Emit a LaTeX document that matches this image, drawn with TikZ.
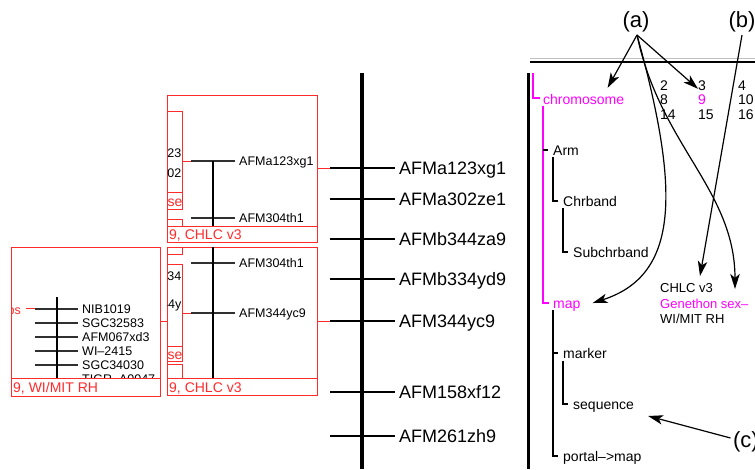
\documentclass[tikz,border=0pt]{standalone}
\usepackage{fontspec}
\setmainfont{Liberation Sans}
\usetikzlibrary{arrows.meta,positioning,calc}
\definecolor{MapRed}{HTML}{FF2B2B}
\definecolor{TreePink}{HTML}{FF00FF}
\definecolor{RuleGray}{HTML}{C0C0C0}
\definecolor{TickDark}{HTML}{303030}

\begin{document}
\begin{tikzpicture}[x=1pt,y=-1pt,
  panel/.style={rectangle,draw=MapRed,fill=white,line width=1pt,inner sep=0pt,anchor=north west},
  redframe/.style={draw=MapRed,line width=1pt},
  mainlabel/.style={anchor=west,inner sep=0pt,font=\fontsize{18}{20}\selectfont,text height=13pt,text depth=0pt},
  mapmarker/.style={anchor=west,inner sep=0pt,font=\fontsize{12.5}{14}\selectfont,text height=9pt,text depth=0pt},
  mapcaption/.style={mapmarker,font=\fontsize{14}{16}\selectfont,text=MapRed,text height=10pt},
  treelabel/.style={anchor=west,inner sep=0pt,font=\fontsize{14}{16}\selectfont,text height=10pt,text depth=0pt},
  maplist/.style={anchor=west,inner sep=0pt,font=\fontsize{13}{15}\selectfont,text height=9.4pt,text depth=0pt},
  callout/.style={inner sep=0pt,outer sep=2.5pt,font=\fontsize{22}{24}\selectfont,text height=16pt,text depth=5pt},
  markertick/.style={draw=TickDark,line width=1.2pt},
  mapaxis/.style={draw=black,line width=2pt},
  treeline/.style={draw=black,line width=1.3pt},
  pinkline/.style={draw=TreePink,line width=1.5pt},
  arrow/.style={-{Stealth[length=15pt,width=9.5pt,inset=4pt]},draw=black,line width=1.2pt}
]
\useasboundingbox[fill=white] (0,0) rectangle (755,469);

% main chromosome axis
\draw[line width=4pt] (362,73) -- (362,469);
\foreach \mk/\y [count=\i] in {AFMa123xg1/168,AFMa302ze1/199,AFMb344za9/239,AFMb334yd9/279,AFM344yc9/321,AFM158xf12/392,AFM261zh9/436}{
  \node[mainlabel] (mk\i) at (399,\y) {\mk};
  \coordinate (mt\i) at (330,\y);
  \draw[markertick,draw=black] (mt\i) -- ([xshift=-4pt]mk\i.west);
}

% WI/MIT RH panel
\node[panel,minimum width=149pt,minimum height=149pt] (rhmap) at (11,247) {};
\begin{scope}
  \clip (rhmap.north west) rectangle (rhmap.south east);
  \node[mapmarker,anchor=east,text=MapRed] (rhps) at (21,310) {ps};
\end{scope}
\draw[redframe] ([xshift=5pt]rhps.east |- 0,308) -- (35,308);
\foreach \mk/\y [count=\i] in {NIB1019/309,SGC32583/323,AFM067xd3/337,WI–2415/351,SGC34030/365,TIGR–A0047/379}{
  \node[mapmarker] (rh\i) at (82,\y) {\mk};
  \draw[markertick] (35,\y) -- ([xshift=-4pt]rh\i.west);
}
\draw[mapaxis] (57,297) -- (57,378);
\draw[redframe,fill=white] (11,378) rectangle (160,396);
\node[mapcaption] (rhcap) at (13,387) {9, WI/MIT RH};

% upper CHLC panel
\node[panel,minimum width=150pt,minimum height=147pt] (chlcA) at (167,95) {};
\node[panel,minimum width=15pt,minimum height=98pt] (hidA) at (167,111) {};
\begin{scope}
  \clip (hidA.north west) rectangle (hidA.south east);
  \node[mapmarker,anchor=east] (hidA1) at (181.5,153) {23};
  \node[mapmarker,anchor=east] (hidA2) at (181.5,173) {302};
  \node[mapcaption] (hidA3) at (167.5,201) {se};
\end{scope}
\draw[redframe] (167,192) -- (182,192);
\draw[redframe] (167,219) -| (182,226);
\draw[redframe] (167,226) -- (317,226);
\node[mapcaption] (capA) at (169,234) {9, CHLC v3};
\node[mapmarker] (pa1) at (239,161) {AFMa123xg1};
\node[mapmarker] (pa2) at (239,218) {AFM304th1};
\draw[redframe] (182,161) -- (191,161);
\draw[markertick] (191,161) -- ([xshift=-4pt]pa1.west);
\draw[markertick] (191,218) -- ([xshift=-4pt]pa2.west);
\draw[mapaxis] (213,161) -- (213,226);
\draw[redframe] (chlcA.east |- mt1) -- (mt1);

% lower CHLC panel
\node[panel,minimum width=150pt,minimum height=148pt] (chlcB) at (167,247) {};
\draw[redframe] (167,254) -| (182,247);
\node[panel,minimum width=15pt,minimum height=97pt] (hidB) at (167,264) {};
\begin{scope}
  \clip (hidB.north west) rectangle (hidB.south east);
  \node[mapmarker,anchor=east] (hidB1) at (181.5,276) {334};
  \node[mapmarker,anchor=east] (hidB2) at (181.5,304) {44y};
  \node[mapcaption] (hidB3) at (167.5,354) {se};
\end{scope}
\draw[redframe] (167,346) -- (182,346);
\draw[redframe] (167,364) -| (182,378);
\draw[redframe] (167,378) -- (317,378);
\node[mapcaption] (capB) at (169,387) {9, CHLC v3};
\node[mapmarker] (pb1) at (239,263) {AFM304th1};
\node[mapmarker] (pb2) at (239,313) {AFM344yc9};
\draw[redframe] (182,313) -- (191,313);
\draw[markertick] (191,263) -- ([xshift=-4pt]pb1.west);
\draw[markertick] (191,313) -- ([xshift=-4pt]pb2.west);
\draw[mapaxis] (213,247) -- (213,378);
\draw[redframe] (chlcB.east |- mt5) -- (mt5);
\draw[redframe] (rhmap.east |- 0,321) -- (chlcB.west |- 0,321);

% object tree
\draw[line width=3pt] (528,73) -- (528,469);
\draw[draw=RuleGray,line width=1pt] (530,58) -- (755,58);
\draw[line width=1.2pt] (530,62) -- (755,62);
\draw[pinkline] (533,73) |- (540,98);
\node[treelabel,text=TreePink] (chromo) at (543,99) {chromosome};
\draw[pinkline] (543,106) |- (549,303);
\node[treelabel,text=TreePink] (map) at (553,303) {map};
\draw[treeline] (543,150) -- (548,150);
\node[treelabel] (arm) at (553,150) {Arm};
\draw[treeline] (553,157) |- (558,201);
\node[treelabel] (chrband) at (563,201) {Chrband};
\draw[treeline] (563,208) |- (568,252);
\node[treelabel] (subchrband) at (573,252) {Subchrband};
\draw[treeline] (553,310) |- (558,456);
\draw[treeline] (553,353) -- (558,353);
\node[treelabel] (marker) at (563,353) {marker};
\node[treelabel] (portal) at (563,456) {portal–>map};
\draw[treeline] (563,361) |- (568,404);
\node[treelabel] (sequence) at (573,404) {sequence};

% chromosome numbers
\foreach \n/\cx/\cy in {2/660/85,3/698/85,4/738/85,8/660/99,10/738/99,14/660/114,15/698/114,16/738/114}
  \node[treelabel] (n\n) at (\cx,\cy) {\n};
\node[treelabel,text=TreePink] (n9) at (698,99) {9};

% map list
\node[maplist] (chlc) at (660,288) {CHLC v3};
\node[maplist,text=TreePink,below=6pt of chlc.south west,anchor=north west] (genethon) {Genethon sex–};
\node[maplist,below=5pt of genethon.south west,anchor=north west] (wimitrh) {WI/MIT RH};

% callouts
\node[callout] (a) at (636,22) {(a)};
\node[callout] (b) at (742,22) {(b)};
\node[callout,anchor=west] (c) at (730.5,442) {(c)};
\draw[arrow] ([xshift=1pt]a.south) -- ([xshift=24pt,yshift=6pt]chromo.north);
\draw[arrow] ([xshift=1pt]a.south) -- ([yshift=5pt]n9.north west);
\draw[arrow] ([xshift=1pt]a.south) .. controls (680,190) and (680,275) .. ([xshift=12pt]map.east);
\draw[arrow] ([xshift=1pt]a.south) .. controls (660,145) and (735,190) .. ([xshift=75pt,yshift=10pt]genethon.north west);
\draw[arrow] (b.south) -- ([xshift=40pt,yshift=7pt]chlc.north west);
\draw[arrow] ([yshift=4pt]c.west) -- ([xshift=14pt,yshift=-12pt]sequence.east);
\end{tikzpicture}
\end{document}
